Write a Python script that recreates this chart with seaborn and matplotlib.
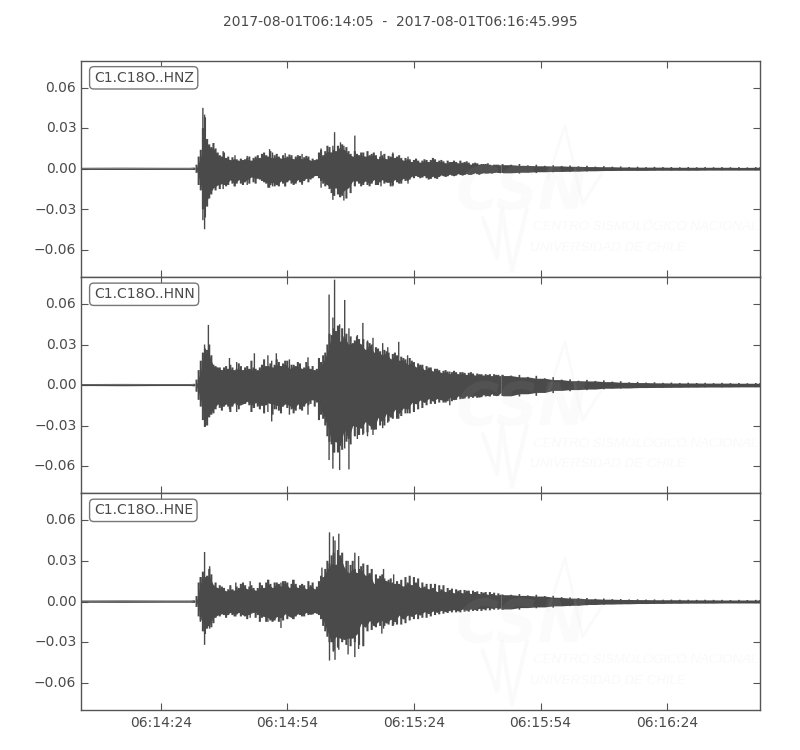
import matplotlib
matplotlib.use('Agg')
import matplotlib.pyplot as plt
import matplotlib.transforms as mtransforms
import numpy as np
import pandas as pd
import seaborn as sns

# seconds after 06:14:05, amplitudes below are in units of 1e-3
t_grid = [0, 10, 20, 26] + list(range(27, 101)) + list(range(102, 161, 2)) + [161]
t_half = list(np.arange(27.5, 100, 1.0))
quiet = [0.4, 0.5, 0.4, 0.4]

hnz_up = quiet + [
    0.6, 9, 30, 22, 16, 15, 10, 12, 9, 8.5, 7, 7.5, 7, 9, 8, 10, 11, 10, 13, 10,
    9, 10, 9, 10, 9, 9.5, 8.5, 9, 7.5, 7, 14, 13, 16, 14, 17, 18, 16, 11, 13, 10,
    12, 13, 11, 10, 9, 11, 9.5, 11, 9, 8, 8, 7, 6.5, 6, 6, 6.5, 6.5, 7, 6, 5.5,
    6, 5, 5, 6, 5, 4.5, 4, 4, 3.5, 3.5, 3, 3, 3, 3.2,
    3, 3.5, 2.5, 3, 2.2, 2.6, 2.1, 2.4, 1.8, 2.2, 1.6, 1.9, 1.5, 1.7, 1.3, 1.5, 1.2, 1.4, 1.2, 1.3,
    1.1, 1.3, 1.1, 1.2, 1.1, 1.2, 1.1, 1.2, 1, 1.2, 1.1]
hnz_dn = quiet + [
    0.6, 12, 30, 28, 19, 16, 15, 12, 12, 11, 11, 11, 10, 11, 10, 7, 9, 11, 12, 13,
    13, 11, 10, 11, 11, 10, 9, 10, 7, 5, 9, 13, 15, 20, 19, 20, 22, 18, 13, 11,
    12, 12, 11, 12, 10, 11, 10, 12, 10, 11, 9, 8, 7, 6, 6.5, 7, 7.5, 7, 6, 5.5,
    5.5, 5, 5, 4.5, 4.5, 4.5, 4, 4, 3.5, 3.5, 3, 3, 3, 3,
    3, 3.6, 2.6, 3.2, 2.2, 2.6, 2, 2.3, 1.8, 2, 1.5, 1.7, 1.3, 1.5, 1.2, 1.4, 1.2, 1.3, 1.1, 1.2,
    1.1, 1.2, 1.1, 1.1, 1, 1.1, 1, 1.1, 1, 1.1, 1]
hnz_half_up = [
    3, 14, 38, 18, 19, 12, 9, 8, 6.5, 7, 6, 6.5, 8, 6, 9, 8, 12, 9, 8, 11,
    7.5, 8, 10.5, 7, 10, 7, 9.5, 6, 6.5, 12, 10, 17, 12, 13, 15, 14, 13, 9, 11, 12,
    9, 10, 12, 7, 10, 7, 9, 8, 10, 6, 7, 5, 7.5, 4.5, 7, 5, 8, 5, 6.5, 4,
    5, 6, 4, 4.5, 5.5, 3, 4.5, 3, 3.5, 4, 2.5, 3, 2.5]
hnz_half_dn = [
    3, 16, 36, 22, 14, 12, 11, 13, 8, 13, 8, 12, 8, 6, 11, 8, 10, 14, 10, 12,
    9, 13, 8, 12, 8, 11, 7, 8, 5, 7, 11, 12, 18, 14, 21, 16, 14, 9, 9, 13,
    9, 13, 8, 12, 8, 10, 13, 8, 11, 7, 9, 5.5, 5, 7, 5, 8, 5.5, 7.5, 4.5, 6,
    4, 5.5, 3.5, 5, 3.5, 4.5, 3, 4.5, 3, 3.5, 3.5, 2.5, 3]

hnn_up = quiet + [
    0.6, 11, 24, 26, 22, 14, 13, 13, 12, 13, 12, 14, 13, 12, 13, 11, 15, 14, 16, 15,
    17, 16, 18, 15, 14, 16, 13, 14, 14, 12, 17, 24, 38, 42, 44, 42, 38, 36, 33, 34,
    34, 32, 30, 28, 25, 26, 24, 23, 22, 21, 19, 20, 17, 16, 15, 14, 13, 12, 11, 10.5,
    10, 9.5, 9.5, 9.5, 9, 9, 8.5, 8.5, 8, 8, 8, 8, 7.5, 7.5,
    7, 7.5, 6, 6.8, 5, 5.8, 4, 4.2, 3.2, 3.8, 3, 3.4, 2.5, 2.8, 2, 2.3, 1.8, 2, 1.6, 1.8,
    1.5, 1.7, 1.5, 1.6, 1.4, 1.6, 1.4, 1.5, 1.3, 1.5, 1.3]
hnn_dn = quiet + [
    0.6, 11, 26, 30, 22, 18, 17, 16, 16, 16, 15, 15, 14, 15, 17, 16, 15, 15, 14, 18,
    19, 16, 17, 18, 19, 18, 16, 15, 11, 13, 22, 30, 42, 50, 50, 48, 42, 44, 38, 37,
    36, 35, 33, 33, 30, 30, 27, 25, 25, 23, 21, 21, 20, 18, 17, 15, 14, 14, 13, 13,
    12, 12, 11, 10.5, 10, 10, 9.5, 9.5, 9, 8.5, 8.5, 8, 8, 8,
    8, 8.5, 6.5, 8, 5.5, 6, 4, 4.6, 3.4, 3.8, 3, 3.2, 2.4, 2.6, 2.2, 2.3, 1.9, 2.1, 1.8, 1.9,
    1.7, 1.8, 1.6, 1.7, 1.5, 1.7, 1.5, 1.6, 1.4, 1.6, 1.4]
hnn_half_up = [
    4, 18, 27, 30, 15, 13, 11, 14, 15, 11, 16, 11, 14, 18, 12, 13, 19, 14, 13, 19,
    14, 18, 12, 15, 17, 12, 17, 12, 11, 20, 22, 30, 37, 40, 32, 36, 30, 31, 36, 30,
    26, 31, 24, 27, 22, 25, 19, 24, 18, 20, 15, 18, 13, 15, 11, 13, 10, 12, 9, 11,
    8, 10.5, 8, 9.5, 7.5, 9.5, 7, 8, 7, 7.5, 6.5, 7.5, 6.5]
hnn_half_dn = [
    5, 16, 31, 24, 21, 14, 19, 14, 20, 13, 18, 14, 12, 20, 13, 18, 21, 13, 22, 15,
    21, 14, 15, 21, 14, 19, 13, 14, 16, 26, 25, 38, 44, 42, 45, 33, 40, 30, 31, 32,
    27, 30, 33, 24, 27, 21, 24, 18, 21, 17, 18, 13, 14, 11, 13, 10, 12, 10, 11, 13,
    9, 11, 8, 10, 8, 8.5, 8, 9, 7, 8, 6.5, 8, 6]

hne_up = quiet + [
    0.6, 14, 22, 19, 20, 14, 12, 10, 9, 9, 11, 13, 12, 11, 10, 10, 12, 14, 13, 14,
    13, 15, 14, 13, 13, 12, 12, 15, 14, 11, 19, 24, 28, 36, 38, 36, 30, 27, 24, 24,
    28, 27, 24, 20, 19, 17, 16, 14, 15, 16, 18, 19, 18, 17, 14, 13, 13, 13, 12, 12,
    10, 9.5, 9, 8.5, 8.5, 8, 8, 7.5, 7, 7, 7, 6.5, 6, 5,
    5, 5.5, 4.5, 5, 4, 4.2, 3.2, 3, 2.5, 2.6, 2, 2.2, 1.7, 1.8, 1.5, 1.6, 1.4, 1.5, 1.3, 1.4,
    1.3, 1.3, 1.2, 1.3, 1.2, 1.2, 1.1, 1.2, 1.1, 1.2, 1.1]
hne_dn = quiet + [
    0.6, 11, 22, 20, 19, 12, 11, 10, 10, 10, 9.5, 11, 11, 10, 8, 10, 12, 15, 14, 14,
    15, 14, 13, 12, 11, 10, 11, 10, 9.5, 9, 13, 22, 30, 36, 34, 30, 32, 33, 30, 32,
    33, 22, 21, 19, 18, 18, 17, 18, 17, 17, 16, 14, 13, 13, 12, 12, 11, 10, 9.5, 9,
    8.5, 8, 8, 8, 7.5, 7.5, 7, 7, 7, 6.5, 6.5, 6, 6, 6,
    5.5, 6, 4.5, 5, 4, 4.5, 3.2, 3.4, 2.8, 2.8, 2.2, 2.4, 1.9, 2, 1.7, 1.7, 1.5, 1.5, 1.4, 1.4,
    1.3, 1.3, 1.2, 1.2, 1.2, 1.2, 1.1, 1.2, 1.1, 1.2, 1.1]
hne_half_up = [
    4, 18, 18, 24, 12, 10, 11, 7.5, 12, 8, 10, 14, 9, 12, 8, 14, 10, 16, 10, 14,
    11, 15, 10, 16, 10, 13, 9, 12, 9, 15, 18, 30, 34, 27, 34, 25, 21, 30, 21, 26,
    19, 21, 13, 17, 20, 15, 17, 13, 13, 11, 14, 12, 14, 10, 11, 9, 10, 7, 9, 7,
    8.5, 6, 8, 6, 8, 5.5, 7, 5.5, 6.5, 5, 5.5, 4.5, 5]
hne_half_dn = [
    4, 14, 24, 17, 16, 10, 9, 12, 8, 11, 8, 10, 13, 9, 12, 15, 11, 12, 15, 11,
    12, 9, 11, 13, 9, 11, 8, 9.5, 8, 10, 18, 26, 30, 26, 27, 28, 27, 27, 24, 16,
    19, 14, 18, 15, 14, 16, 13, 15, 10, 13, 10, 11, 9, 10, 7.5, 9, 7, 8, 6.5, 7.5,
    6.5, 6, 7, 5.5, 6.5, 5.5, 6, 5, 5.5, 4.5, 5, 4.5, 5]

# single swings that stand out of the body: time, top, bottom
hnz_spike_t = [29.0, 29.4, 33.8, 44.8, 45.5, 60.2, 65.0, 57.0, 59.8, 61.6, 62.4, 36.6, 39.5, 48.5, 52.5, 71.2, 74.0, 77.6]
hnz_spike_up = [45, 40, 13, 14.5, 12, 27, 24.5, 15, 17, 19.5, 17, 10, 9.5, 11.5, 11, 13, 12, 9]
hnz_spike_dn = [38, 44.7, 15, 14, 13, 20, 12, 14, 23, 21, 23.5, 13, 12, 13, 12, 13, 13, 11]

hnn_spike_t = [30.3, 29.4, 35.3, 37.0, 41.2, 44.4, 45.3, 46.4, 49.5, 53.9, 58.9, 59.8, 60.2, 61.4, 62.6, 63.6, 66.9, 65.6, 69.3, 71.6, 72.8, 75.4, 77.5, 68.0, 87.5]
hnn_spike_up = [44.5, 30, 20, 17, 23.5, 22, 18, 23.5, 19, 20.5, 67, 50, 78, 45, 63, 42, 46, 37, 35, 31, 28, 32, 22, 33, 10]
hnn_spike_dn = [20, 31, 18, 20, 17, 20, 27, 18, 22, 22, 55.6, 62, 50, 63, 47, 62.5, 37, 40, 37, 32, 28, 25, 21, 38, 15]

hne_spike_t = [29.4, 30.6, 28.4, 36.8, 40.2, 44.4, 47.5, 50.3, 57.2, 59.0, 60.3, 61.2, 59.9, 65.0, 63.4, 65.9, 71.4, 71.8, 74.2, 79.0]
hne_spike_up = [36.5, 26, 18, 14, 15, 16, 14, 16, 25, 51, 45, 50, 48, 36, 30, 33.5, 18, 24, 20, 16]
hne_spike_dn = [32, 20, 15, 11, 12, 15, 19.5, 13, 13, 43.5, 43, 35.6, 37, 41, 39, 35, 23.7, 20, 17, 12]

trace_names = ['C1.C18O..HNZ', 'C1.C18O..HNN', 'C1.C18O..HNE']
traces = [(hnz_up, hnz_dn, hnz_half_up, hnz_half_dn, hnz_spike_t, hnz_spike_up, hnz_spike_dn),
          (hnn_up, hnn_dn, hnn_half_up, hnn_half_dn, hnn_spike_t, hnn_spike_up, hnn_spike_dn),
          (hne_up, hne_dn, hne_half_up, hne_half_dn, hne_spike_t, hne_spike_up, hne_spike_dn)]

y_ticks = [-0.06, -0.03, 0.0, 0.03, 0.06]
y_labels = ['\u22120.06', '\u22120.03', '0.00', '0.03', '0.06']
x_ticks = [19, 49, 79, 109, 139]
x_labels = ['06:14:24', '06:14:54', '06:15:24', '06:15:54', '06:16:24']
title = '2017-08-01T06:14:05  -  2017-08-01T06:16:45.995'

# watermark zigzags in axes fractions
mark_big_x = [0.688, 0.713, 0.739, 0.767]
mark_big_y = [0.458, 0.70, 0.338, 0.477]
mark_low_x = [0.592, 0.613, 0.620, 0.635, 0.657]
mark_low_y = [0.273, 0.088, 0.315, 0.028, 0.315]

sns.set_style('white')
plt.rcParams['font.family'] = ['DejaVu Sans']
grey = '#4a4a4a'
mark_c = '#c8c8c8'

fig = plt.figure(figsize=(8, 7.5), dpi=100)
fig.text(0.5, 0.971, title, ha='center', va='center', fontsize=10, color=grey)

tops = [60.5, 277, 493]
heights = [216.5, 216, 217]
tg = np.array(t_grid)
up_shift = mtransforms.ScaledTranslation(0, 1.2 / 100, fig.dpi_scale_trans)
for i, name in enumerate(trace_names):
    up, dn, h_up, h_dn, sp_t, sp_up, sp_dn = traces[i]
    up = np.array(up) * 1e-3
    dn = np.array(dn) * 1e-3
    h_up = np.array(h_up) * 1e-3
    h_dn = np.array(h_dn) * 1e-3
    ax = fig.add_axes([80.5 / 800, 1 - (tops[i] + heights[i]) / 750, 679.5 / 800, heights[i] / 750])

    # quiet start as a thin band
    head = tg <= 27
    df = pd.DataFrame({'t': tg[head], 'up': up[head], 'dn': -dn[head]})
    ax.fill_between(df['t'], df['dn'], df['up'], color=grey, lw=0)
    sns.lineplot(data=df, x='t', y='up', color=grey, lw=0.6, estimator=None, ax=ax)
    sns.lineplot(data=df, x='t', y='dn', color=grey, lw=0.6, estimator=None, ax=ax)

    # solid core under the swings: the lower of each pair of neighbours
    body = (tg >= 27) & (tg <= 100)
    t_body, up_body, dn_body = tg[body], up[body], dn[body]
    core_up = np.minimum(np.minimum(up_body[:-1], up_body[1:]), h_up)
    core_dn = np.minimum(np.minimum(dn_body[:-1], dn_body[1:]), h_dn)
    ax.fill_between(t_half, -core_dn, core_up, color=grey, lw=0)
    lines = ax.vlines(t_body, -dn_body, up_body, color=grey, lw=1.5)
    lines.set_snap(False)
    lines = ax.vlines(t_half, -h_dn, h_up, color=grey, lw=1.5)
    lines.set_snap(False)

    # tail: same idea with the 2 s swings, band runs out to the right edge
    tail = tg >= 100
    t_tail, up_tail, dn_tail = tg[tail], up[tail], dn[tail]
    band_up = np.minimum(up_tail, np.r_[up_tail[1:], up_tail[-1]])
    band_dn = np.minimum(dn_tail, np.r_[dn_tail[1:], dn_tail[-1]])
    ax.fill_between(t_tail, -band_dn, band_up, color=grey, lw=0)
    lines = ax.vlines(t_tail, -dn_tail, up_tail, color=grey, lw=1.2)
    lines.set_snap(False)

    lines = ax.vlines(sp_t, -np.array(sp_dn) * 1e-3, np.array(sp_up) * 1e-3, color=grey, lw=1.0)
    lines.set_snap(False)

    # faint CSN watermark
    ax.text(0.552, 0.315, 'CSN', transform=ax.transAxes, fontsize=42, style='italic',
            weight='bold', color=mark_c, alpha=0.07, va='baseline', zorder=5)
    ax.text(0.666, 0.215, 'CENTRO SISMOL\u00d3GICO NACIONAL', transform=ax.transAxes,
            fontsize=9.5, style='italic', family='Liberation Sans', color=mark_c,
            alpha=0.1, va='baseline', zorder=5)
    ax.text(0.662, 0.12, 'UNIVERSIDAD DE CHILE', transform=ax.transAxes,
            fontsize=9.5, style='italic', family='Liberation Sans', color=mark_c,
            alpha=0.1, va='baseline', zorder=5)
    ax.plot(mark_big_x, mark_big_y, transform=ax.transAxes, color=mark_c, alpha=0.08, lw=2, zorder=5)
    ax.plot(mark_low_x, mark_low_y, transform=ax.transAxes, color=mark_c, alpha=0.08, lw=3, zorder=5)

    ax.text(0.0195, 0.92, name, transform=ax.transAxes, fontsize=10, color=grey, va='center',
            zorder=6, bbox=dict(boxstyle='round,pad=0.3', fc='white', ec='#777777', lw=1))

    ax.set_xlim(0, 161)
    ax.set_ylim(-0.08, 0.08)
    ax.set_xticks(x_ticks)
    ax.set_yticks(y_ticks)
    ax.set_yticklabels(y_labels)
    ax.set_xticklabels(x_labels if i == 2 else [])
    ax.set_xlabel('')
    ax.set_ylabel('')
    ax.tick_params(direction='in', length=5, width=0.8, color='#555555', labelcolor=grey,
                   labelsize=10, top=True, right=True, bottom=True, left=True, pad=6)
    ax.tick_params(axis='x', pad=4)
    ax.tick_params(axis='y', pad=3)
    for lab in ax.get_yticklabels():
        lab.set_transform(lab.get_transform() + up_shift)
    for s in ax.spines.values():
        s.set_color('#555555')
        s.set_linewidth(1)

fig.savefig('out.png', dpi=100)
